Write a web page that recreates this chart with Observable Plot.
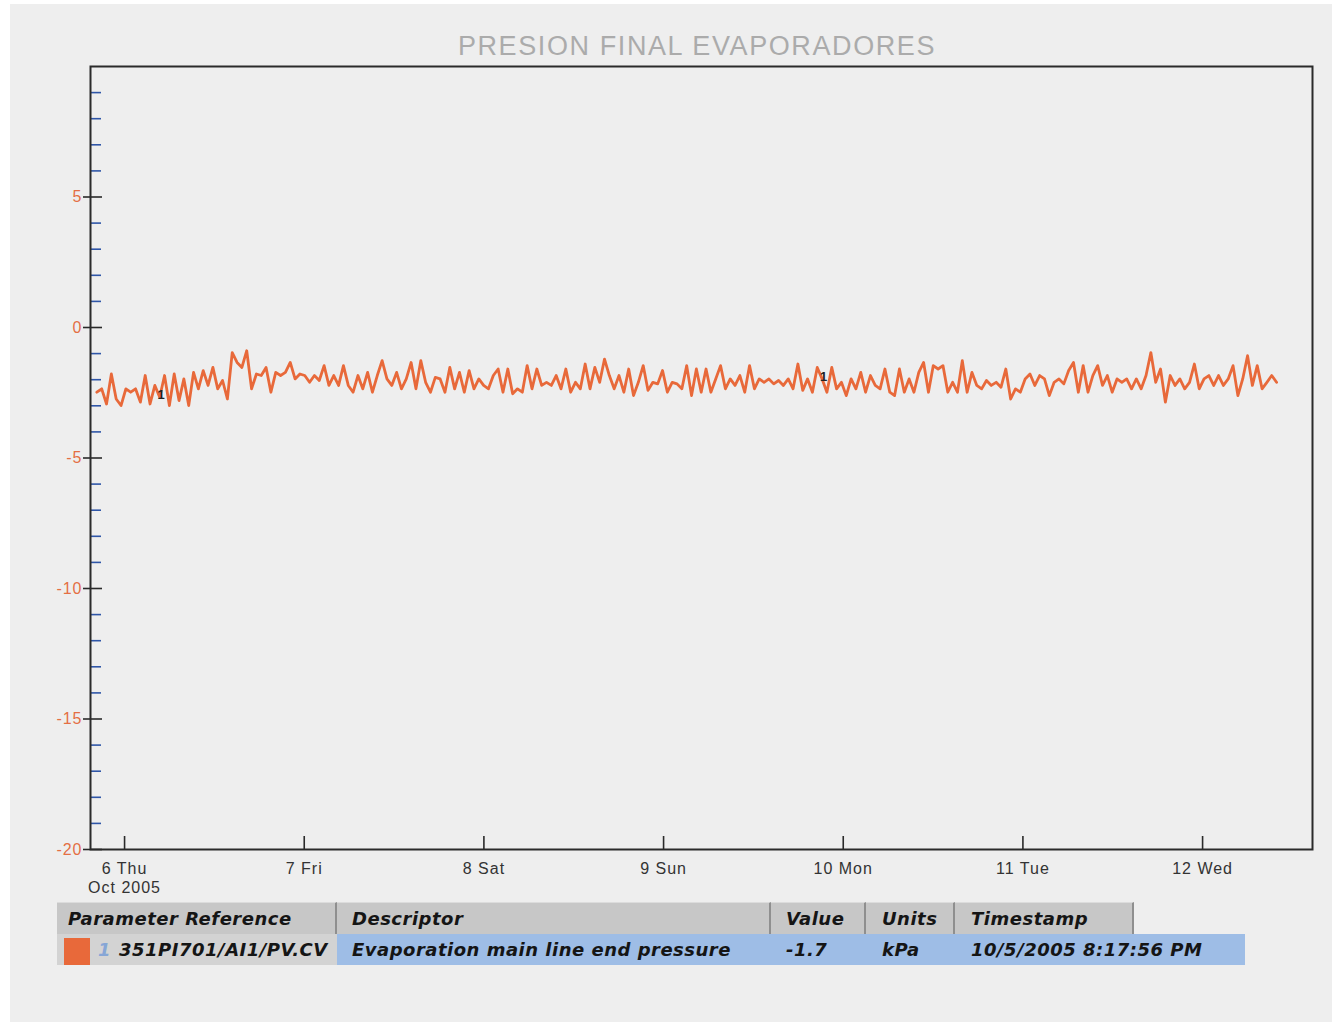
<!DOCTYPE html>
<html><head><meta charset="utf-8">
<script src="https://cdn.jsdelivr.net/npm/d3@7"></script>
<script src="https://cdn.jsdelivr.net/npm/@observablehq/plot@0.6"></script>
<style>
html,body{margin:0;padding:0;background:#fff;width:1332px;height:1025px;overflow:hidden;position:relative;}
#paper{position:absolute;left:10px;top:4px;width:1322px;height:1018px;background:#eeeeee;}
#title{position:absolute;left:197px;top:33px;width:1000px;text-align:center;font:27px/27px "Liberation Sans",Arial,sans-serif;letter-spacing:1.6px;color:#ababab;}
#chart{position:absolute;left:0;top:58px;}
.cell{position:absolute;box-sizing:border-box;font:italic bold 18px "DejaVu Sans",sans-serif;letter-spacing:0.5px;color:#151515;white-space:nowrap;display:flex;align-items:center;}
.hdr{background:#c7c7c7;border-right:2px solid #8f8f8f;border-top:1px solid #dcdcdc;}
</style></head>
<body>
<div id="paper"></div>
<div id="title"></div>
<div id="chart"></div>
<div id="legend"></div>
<script>
// ---------- data ----------
const chartTitle = "PRESION FINAL EVAPORADORES";
const startTime = "2005-10-05T20:17:56Z";
const endTime = "2005-10-12T09:53:00Z";
const xDomain = ["2005-10-05T19:27:00Z", "2005-10-12T14:41:00Z"];
const yDomain = [-20, 10];
const yMajorTicks = [-20, -15, -10, -5, 0, 5];
const yMinorTicks = [-19,-18,-17,-16,-14,-13,-12,-11,-9,-8,-7,-6,-4,-3,-2,-1,1,2,3,4,6,7,8,9];
const dayTicks = ["2005-10-06","2005-10-07","2005-10-08","2005-10-09","2005-10-10","2005-10-11","2005-10-12"];
const dayLabels = ["6 Thu\nOct 2005","7 Fri","8 Sat","9 Sun","10 Mon","11 Tue","12 Wed"];
// pressure, kPa
const pressure = [
-2.48,-2.35,-2.93,-1.78,-2.74,-2.99,-2.35,-2.48,-2.35,-2.86,
-1.84,-2.93,-2.22,-2.67,-1.84,-2.99,-1.78,-2.80,-1.97,-2.99,
-1.72,-2.35,-1.65,-2.22,-1.53,-2.35,-2.03,-2.74,-0.96,-1.34,
-1.53,-0.89,-2.35,-1.78,-1.84,-1.53,-2.48,-1.72,-1.84,-1.72,
-1.34,-1.97,-1.78,-1.84,-2.10,-1.84,-2.03,-1.46,-2.22,-1.84,
-2.22,-1.46,-2.22,-2.48,-1.84,-2.35,-1.72,-2.48,-1.84,-1.27,
-1.97,-2.22,-1.72,-2.35,-1.97,-1.34,-2.35,-1.27,-2.10,-2.48,
-1.91,-1.97,-2.48,-1.53,-2.35,-1.72,-2.48,-1.65,-2.35,-1.97,
-2.22,
-2.35,-1.84,-1.59,-2.48,-1.59,-2.54,-2.35,-2.48,-1.46,
-2.35,-1.59,-2.22,-2.10,-2.22,-1.84,-2.35,-1.59,-2.48,-2.10,
-2.35,-1.40,-2.35,-1.53,-2.10,-1.21,-1.84,-2.35,-1.84,-2.48,
-1.59,-2.61,-2.10,-1.46,-2.41,-2.10,-2.16,-1.65,-2.48,-2.10,
-2.16,-2.35,-1.46,-2.61,-1.59,-2.48,-1.59,-2.48,-1.97,-1.46,
-2.35,-1.97,-2.22,-1.84,-2.48,-1.46,-2.35,-1.97,-2.10,-1.97,
-2.16,-2.03,-2.22,-1.97,-2.35,-1.40,-2.41,-1.97,-2.48,-1.53,
-1.97,-2.48,-1.53,-2.35,-2.10,-2.61,-1.97,-2.35,-1.72,-2.48,
-1.84,-2.22,
-2.35,-1.59,-2.48,-2.61,-1.59,-2.48,-1.97,-2.48,-1.72,-1.34,
-2.48,-1.46,-1.59,-1.46,-2.48,-2.10,-2.48,-1.27,-2.48,-1.72,
-2.22,-2.35,-2.03,-2.22,-2.10,-2.29,-1.59,-2.74,-2.35,-2.48,
-1.97,-1.78,-2.22,-1.84,-1.97,-2.61,-2.10,-1.97,-2.16,-1.65,
-1.34,-2.48,-1.46,-2.48,-1.84,-1.46,-2.22,-1.84,-2.48,-1.97,
-2.10,-1.97,-2.35,-1.97,-2.35,-1.84,-0.96,-2.10,-1.59,-2.86,
-1.84,-2.22,-1.97,-2.35,-2.10,-1.40,-2.35,-1.97,-1.84,-2.22,
-1.84,-2.22,-1.97,-1.46,-2.61,-1.97,-1.08,-2.22,-1.46,-2.35,
-2.10,-1.84,-2.10
];
const markerIdx = [13, 150];
const legendHeaders = ["Parameter Reference","Descriptor","Value","Units","Timestamp"];
const legendRow = ["351PI701/AI1/PV.CV","Evaporation main line end pressure","-1.7","kPa","10/5/2005 8:17:56 PM"];
const traceNumber = "1";

// ---------- build ----------
const t0 = new Date(startTime), t1 = new Date(endTime);
const step = (t1 - t0) / (pressure.length - 1);
const series = pressure.map((v, i) => ({t: new Date(+t0 + i * step), v}));
const days = dayTicks.map(d => new Date(d + "T00:00:00Z"));
const labelOf = new Map(days.map((d, i) => [+d, dayLabels[i]]));

const W = 1332, H = 842, mL = 90, mR = 20, mT = 8, mB = 51;
const innerW = W - mL - mR, innerH = H - mT - mB;
const orange = "#e46f44", line = "#e8693a", dark = "#2a2a2a", blue = "#2f56a8";

document.getElementById("title").textContent = chartTitle;

const chart = Plot.plot({
  width: W, height: H,
  marginLeft: mL, marginRight: mR, marginTop: mT, marginBottom: mB,
  style: {background: "transparent", fontFamily: "'Liberation Sans', Arial, sans-serif", fontSize: "15px", letterSpacing: "1px"},
  x: {type: "utc", domain: xDomain.map(d => new Date(d))},
  y: {domain: yDomain},
  marks: [
    Plot.tickY(yMinorTicks, {y: d => d, stroke: blue, strokeWidth: 1.6, insetRight: innerW - 11}),
    Plot.tickY(yMajorTicks, {y: d => d, stroke: dark, strokeWidth: 1.6, insetLeft: -7, insetRight: innerW - 12}),
    Plot.axisY(yMajorTicks, {tickSize: 0, tickPadding: 8, color: orange, label: null, fontSize: 16, tickFormat: d => String(d)}),
    Plot.tickX(days, {x: d => d, stroke: dark, strokeWidth: 1.6, insetTop: innerH - 13}),
    Plot.axisX(days, {tickSize: 0, tickPadding: 11, tickFormat: d => labelOf.get(+d), label: null, color: "#333", fontSize: 16, lineHeight: 1.2}),
    Plot.frame({stroke: dark, strokeWidth: 2}),
    Plot.line(series, {x: "t", y: "v", stroke: line, strokeWidth: 2.8}),
    Plot.text(markerIdx, {x: i => series[i].t, y: i => series[i].v, text: () => traceNumber, fill: "#222", fontSize: 13, fontWeight: "bold", dx: 2, dy: -2})
  ]
});
document.getElementById("chart").appendChild(chart);

// ---------- legend table ----------
const lg = document.getElementById("legend");
const cols = [{l: 57, w: 280, p: 11}, {l: 337, w: 434, p: 15}, {l: 771, w: 95, p: 15}, {l: 866, w: 89, p: 16}, {l: 955, w: 179, p: 16}];
function cell(left, top, width, height, text, cls, extra) {
  const d = document.createElement("div");
  d.className = "cell " + (cls || "");
  Object.assign(d.style, {left: left + "px", top: top + "px", width: width + "px", height: height + "px"}, extra || {});
  if (text != null) d.textContent = text;
  lg.appendChild(d);
  return d;
}
legendHeaders.forEach((h, i) => cell(cols[i].l, 902, cols[i].w, 32, h, "hdr", {paddingLeft: cols[i].p + "px"}));
// row
cell(57, 934, 280, 31, null, "", {background: "#d3d3d3"});
cell(337, 934, 908, 31, null, "", {background: "#9ebde6"});
cell(64, 938, 26, 27, null, "", {background: "#e8693a"});
const c1 = cell(98, 934, 239, 31, null, "");
const num = document.createElement("span");
num.textContent = traceNumber; num.style.color = "#86a6d6"; num.style.marginRight = "8px";
const ref = document.createElement("span"); ref.textContent = legendRow[0];
c1.appendChild(num); c1.appendChild(ref);
for (let i = 1; i < 5; i++) cell(cols[i].l, 934, cols[i].w + (i === 4 ? 111 : 0), 31, legendRow[i], "", {paddingLeft: cols[i].p + "px"});
</script>
</body></html>
